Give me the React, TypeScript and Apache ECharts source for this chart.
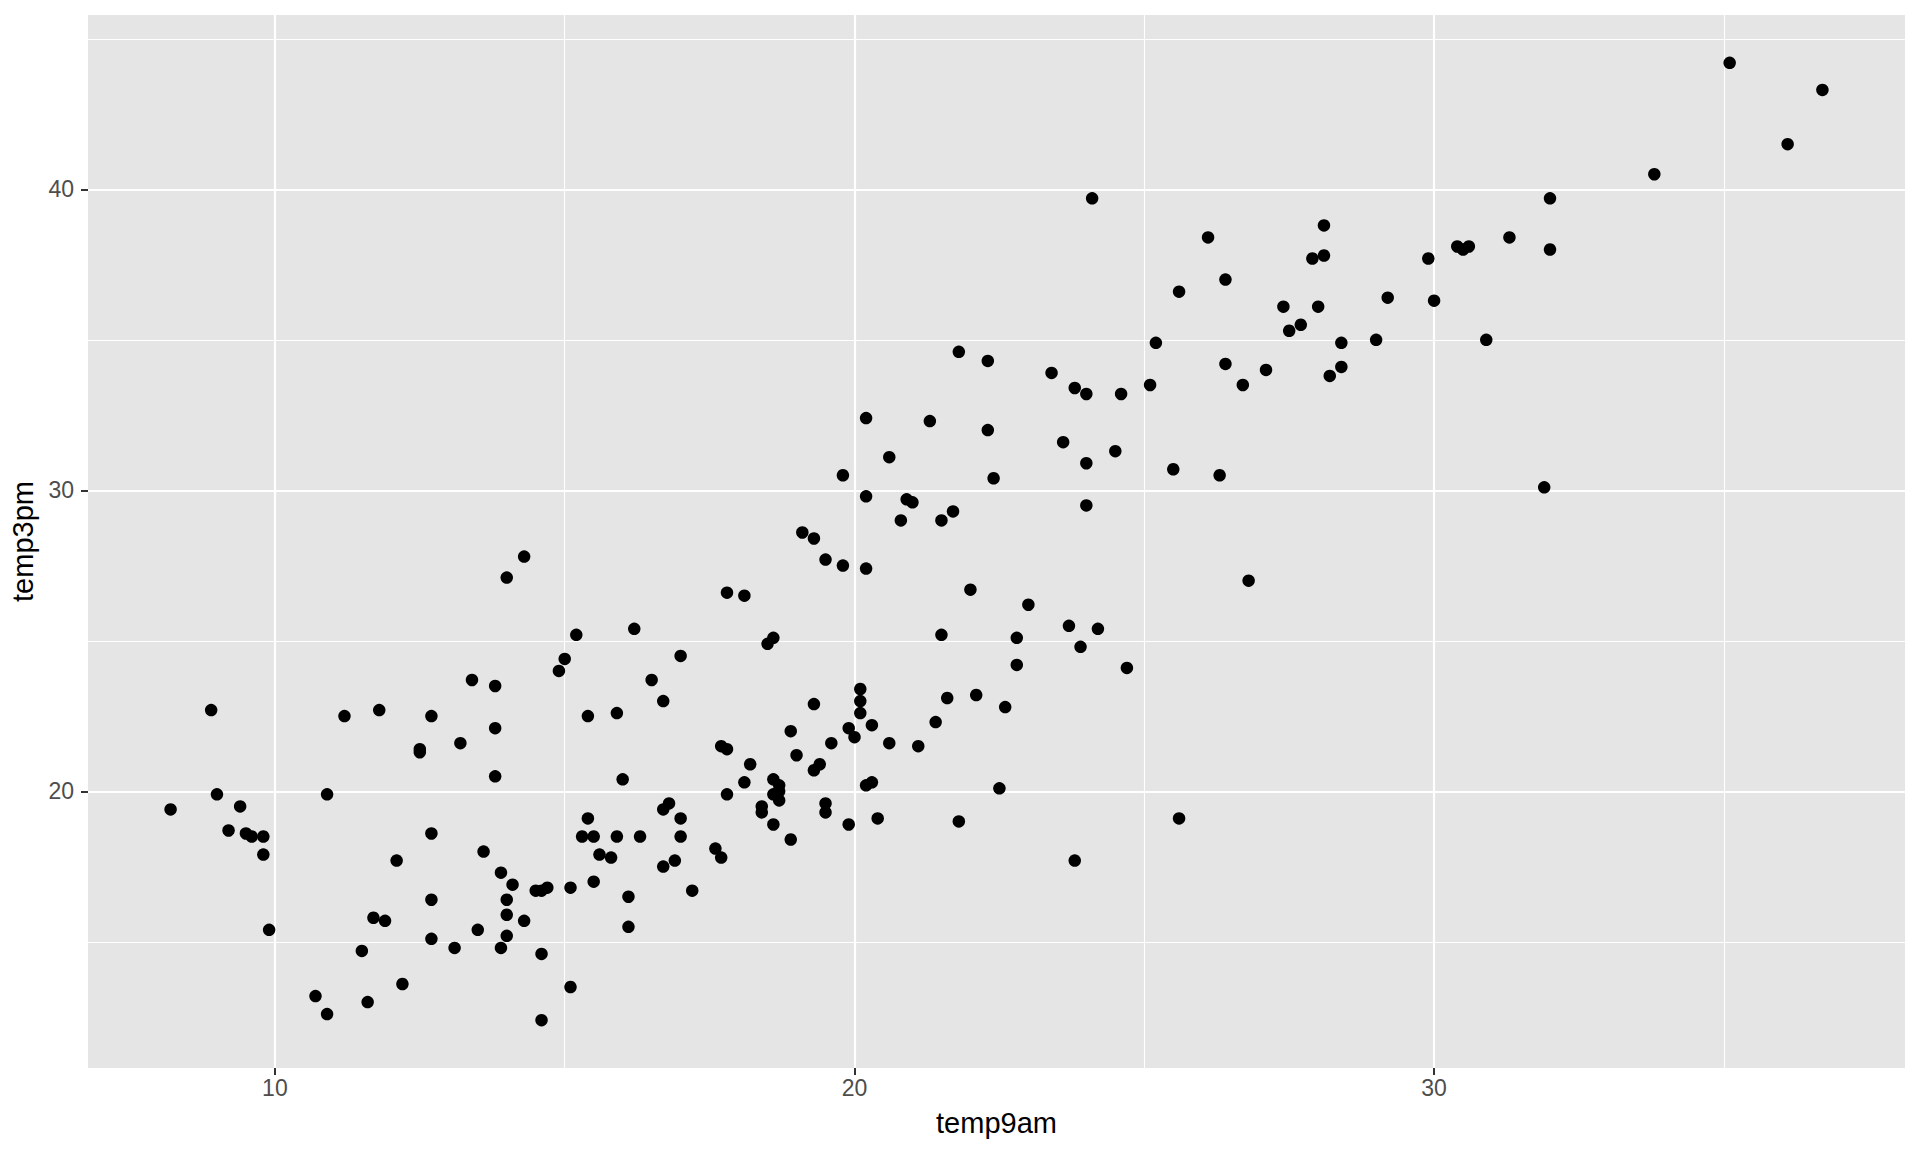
import React, { useEffect, useRef } from "react";
import * as echarts from "echarts";

// temp9am / temp3pm pairs
const temp9am = [
  14.3, 14.0, 15.2, 15.0, 14.9, 13.4, 13.8, 8.9, 11.2, 11.8, 12.7, 13.8, 13.2, 12.5, 12.5, 13.8, 10.9, 9.0, 8.2, 9.4,
  9.2, 9.5, 9.6, 9.8, 12.7, 13.6, 15.3, 9.8,
  12.1, 13.9, 14.1, 14.5, 14.6, 14.7, 15.1, 12.7, 14.0, 11.7, 11.9, 14.0, 14.3, 9.9, 13.5, 12.7, 14.0, 11.5, 13.1, 13.9,
  14.6, 12.2, 15.1, 10.7, 11.6, 10.9, 14.6,
  20.2, 20.9, 21.0, 21.7, 20.8, 21.5, 19.1, 19.3, 19.5, 19.8, 20.2, 22.0, 23.0, 23.7, 17.8, 18.1, 16.2, 21.5, 22.8, 18.6,
  18.5, 17.0, 22.8, 16.5, 16.7, 20.1, 20.1, 20.1, 19.3, 21.6, 22.1, 22.6, 15.4, 15.9, 21.4, 20.3, 18.9, 19.9, 20.0, 19.6,
  20.6, 21.1, 17.7, 17.8, 19.0, 18.2, 19.4, 19.3, 16.0, 18.1, 18.6, 18.7, 18.7, 18.6, 18.7, 20.2, 20.3, 22.5, 17.8, 16.8,
  16.7, 18.4, 18.4, 19.5, 19.5, 15.4, 17.0, 20.4, 21.8, 18.6, 19.9, 15.5, 15.9, 16.3, 17.0, 18.9,
  15.6, 15.8, 17.6, 17.7, 16.7, 16.9, 15.5, 17.2, 16.1, 16.1,
  24.0, 26.8, 24.2, 23.9, 24.7, 25.6, 23.8,
  21.8, 22.3, 23.4, 23.8, 24.0, 24.6, 25.1, 25.2, 20.2, 21.3, 22.3, 23.6, 24.5, 24.0, 25.5, 20.6, 19.8, 22.4,
  32.0, 26.1, 28.1, 27.9, 28.1, 31.3, 30.4, 30.5, 30.6, 32.0, 29.9, 25.6, 26.4, 27.4, 28.0, 27.7, 27.5, 29.2, 30.0, 28.4,
  29.0, 30.9, 26.4, 27.1, 26.7, 28.4, 28.2, 26.3, 31.9,
  35.1, 36.7, 36.1, 33.8, 24.1,
];
const temp3pm = [
  27.8, 27.1, 25.2, 24.4, 24.0, 23.7, 23.5, 22.7, 22.5, 22.7, 22.5, 22.1, 21.6, 21.4, 21.3, 20.5, 19.9, 19.9, 19.4, 19.5,
  18.7, 18.6, 18.5, 18.5, 18.6, 18.0, 18.5, 17.9,
  17.7, 17.3, 16.9, 16.7, 16.7, 16.8, 16.8, 16.4, 16.4, 15.8, 15.7, 15.9, 15.7, 15.4, 15.4, 15.1, 15.2, 14.7, 14.8, 14.8,
  14.6, 13.6, 13.5, 13.2, 13.0, 12.6, 12.4,
  29.8, 29.7, 29.6, 29.3, 29.0, 29.0, 28.6, 28.4, 27.7, 27.5, 27.4, 26.7, 26.2, 25.5, 26.6, 26.5, 25.4, 25.2, 25.1, 25.1,
  24.9, 24.5, 24.2, 23.7, 23.0, 23.4, 23.0, 22.6, 22.9, 23.1, 23.2, 22.8, 22.5, 22.6, 22.3, 22.2, 22.0, 22.1, 21.8, 21.6,
  21.6, 21.5, 21.5, 21.4, 21.2, 20.9, 20.9, 20.7, 20.4, 20.3, 20.4, 20.2, 20.0, 19.9, 19.7, 20.2, 20.3, 20.1, 19.9, 19.6,
  19.4, 19.5, 19.3, 19.6, 19.3, 19.1, 19.1, 19.1, 19.0, 18.9, 18.9, 18.5, 18.5, 18.5, 18.5, 18.4,
  17.9, 17.8, 18.1, 17.8, 17.5, 17.7, 17.0, 16.7, 16.5, 15.5,
  29.5, 27.0, 25.4, 24.8, 24.1, 19.1, 17.7,
  34.6, 34.3, 33.9, 33.4, 33.2, 33.2, 33.5, 34.9, 32.4, 32.3, 32.0, 31.6, 31.3, 30.9, 30.7, 31.1, 30.5, 30.4,
  39.7, 38.4, 38.8, 37.7, 37.8, 38.4, 38.1, 38.0, 38.1, 38.0, 37.7, 36.6, 37.0, 36.1, 36.1, 35.5, 35.3, 36.4, 36.3, 34.9,
  35.0, 35.0, 34.2, 34.0, 33.5, 34.1, 33.8, 30.5, 30.1,
  44.2, 43.3, 41.5, 40.5, 39.7,
];

const xMajor = [10, 20, 30];
const xMinor = [15, 25, 35];
const yMajor = [20, 30, 40];
const yMinor = [15, 25, 35, 45];

const FONT = "'Liberation Sans', Arial, Helvetica, sans-serif";

function expand(values: number[]): [number, number] {
  const lo = Math.min(...values);
  const hi = Math.max(...values);
  const pad = (hi - lo) * 0.05;
  return [lo - pad, hi + pad];
}

export default function App() {
  const ref = useRef<HTMLDivElement>(null);
  useEffect(() => {
    const chart = echarts.init(ref.current as HTMLDivElement, null, { renderer: "svg" });
    const [xmin, xmax] = expand(temp9am);
    const [ymin, ymax] = expand(temp3pm);
    const inX = (v: number) => v > xmin && v < xmax;
    const inY = (v: number) => v > ymin && v < ymax;
    const gridLines: any[] = [
      ...xMinor.filter(inX).map((v) => ({ xAxis: v, lineStyle: { width: 1.1 } })),
      ...yMinor.filter(inY).map((v) => ({ yAxis: v, lineStyle: { width: 1.1 } })),
      ...xMajor.map((v) => ({ xAxis: v, lineStyle: { width: 2.2 } })),
      ...yMajor.map((v) => ({ yAxis: v, lineStyle: { width: 2.2 } })),
    ];
    const axisCommon = {
      type: "value" as const,
      nameLocation: "middle" as const,
      nameTextStyle: { color: "#000000", fontSize: 29, fontFamily: FONT },
      axisLine: { show: false },
      splitLine: { show: false },
    };
    chart.setOption({
      animation: false,
      backgroundColor: "#FFFFFF",
      grid: {
        left: 88,
        top: 15,
        width: 1817,
        height: 1053,
        show: true,
        backgroundColor: "#E5E5E5",
        borderWidth: 0,
      },
      xAxis: {
        ...axisCommon,
        min: xmin,
        max: xmax,
        name: "temp9am",
        nameGap: 40,
        axisTick: { show: true, customValues: xMajor, length: 7, lineStyle: { color: "#333333", width: 2 } },
        axisLabel: { customValues: xMajor, color: "#4D4D4D", fontSize: 23, margin: 8, fontFamily: FONT },
      },
      yAxis: {
        ...axisCommon,
        min: ymin,
        max: ymax,
        name: "temp3pm",
        nameGap: 44,
        axisTick: { show: true, customValues: yMajor, length: 7, lineStyle: { color: "#333333", width: 2 } },
        axisLabel: { customValues: yMajor, color: "#4D4D4D", fontSize: 23, margin: 14, fontFamily: FONT },
      },
      series: [
        {
          type: "scatter",
          data: [],
          silent: true,
          z: 1,
          markLine: {
            silent: true,
            z: 1,
            symbol: "none",
            label: { show: false },
            emphasis: { disabled: true },
            lineStyle: { color: "#FFFFFF", type: "solid", opacity: 1 },
            data: gridLines,
          },
        },
        {
          type: "scatter",
          z: 3,
          data: temp9am.map((x, i) => [x, temp3pm[i]]),
          symbol: "circle",
          symbolSize: 12.5,
          itemStyle: { color: "#000000", opacity: 1 },
        },
      ],
    });
    return () => chart.dispose();
  }, []);
  return <div ref={ref} style={{ position: "absolute", left: 0, top: 0, width: 1920, height: 1152 }} />;
}
